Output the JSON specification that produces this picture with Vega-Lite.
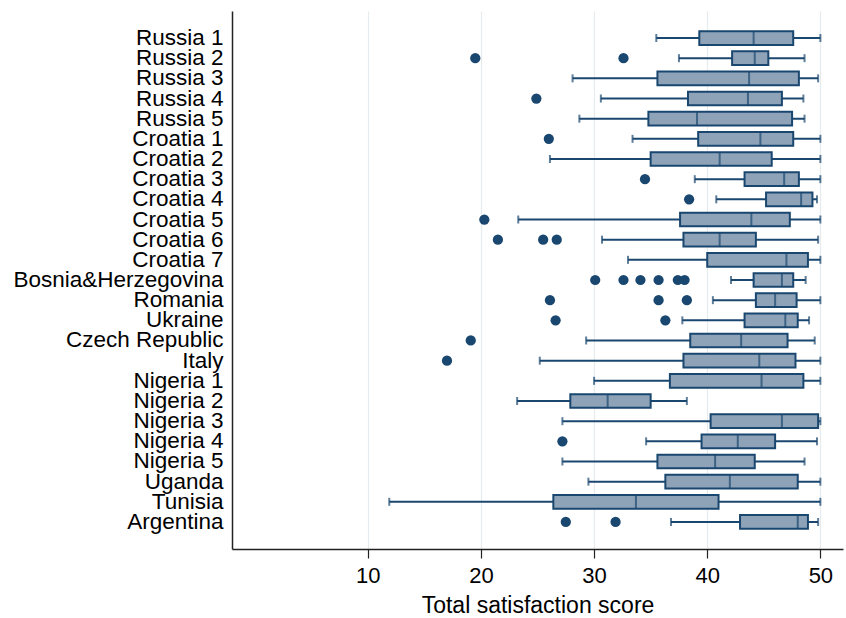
{
  "$schema": "https://vega.github.io/schema/vega-lite/v6.json",
  "width": 611,
  "height": 538,
  "autosize": {"type": "none"},
  "padding": {"left": 232, "top": 11, "right": 3, "bottom": 69},
  "background": "white",
  "config": {
    "view": {"stroke": null},
    "font": "Liberation Sans"
  },
  "datasets": {
    "stats": [
      {"group": "Russia 1", "low": 35.5, "q1": 39.3, "median": 44.1, "q3": 47.6, "high": 50},
      {"group": "Russia 2", "low": 37.5, "q1": 42.2, "median": 44.2, "q3": 45.4, "high": 48.6},
      {"group": "Russia 3", "low": 28.1, "q1": 35.6, "median": 43.7, "q3": 48.1, "high": 49.8},
      {"group": "Russia 4", "low": 30.6, "q1": 38.3, "median": 43.6, "q3": 46.6, "high": 48.5},
      {"group": "Russia 5", "low": 28.7, "q1": 34.8, "median": 39.1, "q3": 47.5, "high": 48.6},
      {"group": "Croatia 1", "low": 33.4, "q1": 39.2, "median": 44.7, "q3": 47.6, "high": 50},
      {"group": "Croatia 2", "low": 26.1, "q1": 35.0, "median": 41.1, "q3": 45.7, "high": 50},
      {"group": "Croatia 3", "low": 38.9, "q1": 43.3, "median": 46.8, "q3": 48.1, "high": 50},
      {"group": "Croatia 4", "low": 40.8, "q1": 45.2, "median": 48.3, "q3": 49.3, "high": 49.7},
      {"group": "Croatia 5", "low": 23.3, "q1": 37.6, "median": 43.9, "q3": 47.3, "high": 50},
      {"group": "Croatia 6", "low": 30.7, "q1": 37.9, "median": 41.1, "q3": 44.3, "high": 49.8},
      {"group": "Croatia 7", "low": 33.0, "q1": 40.0, "median": 47.0, "q3": 48.9, "high": 50},
      {"group": "Bosnia&Herzegovina", "low": 42.1, "q1": 44.1, "median": 46.6, "q3": 47.6, "high": 48.7},
      {"group": "Romania", "low": 40.5, "q1": 44.3, "median": 46.0, "q3": 47.9, "high": 50},
      {"group": "Ukraine", "low": 37.8, "q1": 43.3, "median": 46.9, "q3": 48.0, "high": 49.0},
      {"group": "Czech Republic", "low": 29.3, "q1": 38.5, "median": 43.0, "q3": 47.1, "high": 49.5},
      {"group": "Italy", "low": 25.2, "q1": 37.9, "median": 44.6, "q3": 47.8, "high": 50},
      {"group": "Nigeria 1", "low": 30.0, "q1": 36.7, "median": 44.8, "q3": 48.5, "high": 50},
      {"group": "Nigeria 2", "low": 23.2, "q1": 27.9, "median": 31.2, "q3": 35.0, "high": 38.2},
      {"group": "Nigeria 3", "low": 27.2, "q1": 40.3, "median": 46.6, "q3": 49.8, "high": 50},
      {"group": "Nigeria 4", "low": 34.6, "q1": 39.5, "median": 42.7, "q3": 46.0, "high": 49.7},
      {"group": "Nigeria 5", "low": 27.2, "q1": 35.6, "median": 40.7, "q3": 44.2, "high": 48.6},
      {"group": "Uganda", "low": 29.5, "q1": 36.3, "median": 42.0, "q3": 48.0, "high": 50},
      {"group": "Tunisia", "low": 11.9, "q1": 26.4, "median": 33.7, "q3": 41.0, "high": 50},
      {"group": "Argentina", "low": 36.8, "q1": 42.9, "median": 48.0, "q3": 48.9, "high": 49.8}
    ],
    "outliers": [
      {"group": "Russia 2", "value": 19.5},
      {"group": "Russia 2", "value": 32.6},
      {"group": "Russia 4", "value": 24.9},
      {"group": "Croatia 1", "value": 26.0},
      {"group": "Croatia 3", "value": 34.5},
      {"group": "Croatia 4", "value": 38.4},
      {"group": "Croatia 5", "value": 20.3},
      {"group": "Croatia 6", "value": 21.5},
      {"group": "Croatia 6", "value": 25.5},
      {"group": "Croatia 6", "value": 26.7},
      {"group": "Bosnia&Herzegovina", "value": 30.1},
      {"group": "Bosnia&Herzegovina", "value": 32.6},
      {"group": "Bosnia&Herzegovina", "value": 34.1},
      {"group": "Bosnia&Herzegovina", "value": 35.7},
      {"group": "Bosnia&Herzegovina", "value": 37.4},
      {"group": "Bosnia&Herzegovina", "value": 38.0},
      {"group": "Romania", "value": 26.1},
      {"group": "Romania", "value": 35.7},
      {"group": "Romania", "value": 38.2},
      {"group": "Ukraine", "value": 26.6},
      {"group": "Ukraine", "value": 36.3},
      {"group": "Czech Republic", "value": 19.1},
      {"group": "Italy", "value": 17.0},
      {"group": "Nigeria 4", "value": 27.2},
      {"group": "Argentina", "value": 27.5},
      {"group": "Argentina", "value": 31.9}
    ]
  },
  "encoding": {
    "y": {
      "field": "group",
      "type": "nominal",
      "sort": ["Russia 1", "Russia 2", "Russia 3", "Russia 4", "Russia 5", "Croatia 1", "Croatia 2", "Croatia 3", "Croatia 4", "Croatia 5", "Croatia 6", "Croatia 7", "Bosnia&Herzegovina", "Romania", "Ukraine", "Czech Republic", "Italy", "Nigeria 1", "Nigeria 2", "Nigeria 3", "Nigeria 4", "Nigeria 5", "Uganda", "Tunisia", "Argentina"],
      "scale": {"paddingInner": 0.32, "paddingOuter": 1.12},
      "axis": {
        "title": null,
        "domainColor": "#222222",
        "domainWidth": 1.5,
        "ticks": false,
        "grid": false,
        "labelFontSize": 22.5,
        "labelColor": "black",
        "labelPadding": 9,
        "labelLimit": 400,
        "labelOverlap": false,
        "labelFont": "Liberation Sans"
      }
    }
  },
  "layer": [
    {
      "data": {"name": "stats"},
      "mark": {"type": "rule", "color": "#1a476f", "strokeWidth": 2},
      "encoding": {
        "x": {
          "field": "low",
          "type": "quantitative",
          "scale": {"domain": [-2, 52], "nice": false, "zero": false},
          "axis": {
            "values": [10, 20, 30, 40, 50],
            "title": "Total satisfaction score",
            "titleFontSize": 23,
            "titleFontWeight": "normal",
            "titleColor": "black",
            "titleFont": "Liberation Sans",
            "titlePadding": 8,
            "labelFontSize": 22,
            "labelColor": "black",
            "labelFont": "Liberation Sans",
            "labelPadding": 7,
            "tickColor": "#222222",
            "tickSize": 9,
            "tickWidth": 1.2,
            "domainColor": "#222222",
            "domainWidth": 1.5,
            "grid": true,
            "gridColor": "#e4ecef",
            "gridWidth": 1.2
          }
        },
        "x2": {"field": "high"}
      }
    },
    {
      "data": {"name": "stats"},
      "mark": {"type": "tick", "color": "#1a476f", "thickness": 2, "size": 8, "orient": "vertical"},
      "encoding": {"x": {"field": "low", "type": "quantitative"}}
    },
    {
      "data": {"name": "stats"},
      "mark": {"type": "tick", "color": "#1a476f", "thickness": 2, "size": 8, "orient": "vertical"},
      "encoding": {"x": {"field": "high", "type": "quantitative"}}
    },
    {
      "data": {"name": "stats"},
      "mark": {"type": "bar", "fill": "#8fa3b8", "stroke": "#1a476f", "strokeWidth": 2},
      "encoding": {
        "x": {"field": "q1", "type": "quantitative"},
        "x2": {"field": "q3"}
      }
    },
    {
      "data": {"name": "stats"},
      "mark": {"type": "tick", "color": "#1a476f", "thickness": 2, "size": 14, "orient": "vertical"},
      "encoding": {"x": {"field": "median", "type": "quantitative"}}
    },
    {
      "data": {"name": "outliers"},
      "mark": {"type": "circle", "color": "#1a476f", "opacity": 1, "size": 105},
      "encoding": {"x": {"field": "value", "type": "quantitative"}}
    }
  ]
}
